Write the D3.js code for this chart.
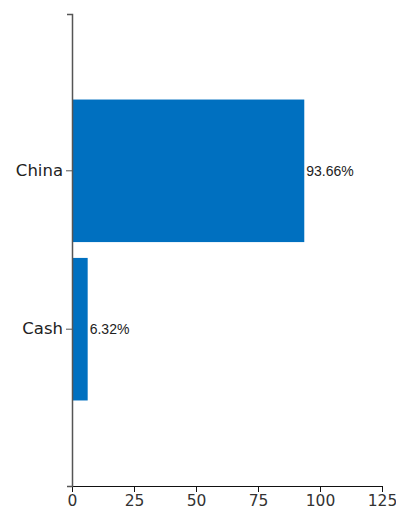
<!DOCTYPE html>
<html>
<head>
<meta charset="utf-8">
<script src="https://cdn.jsdelivr.net/npm/d3@7"></script>
<style>
  body { margin: 0; background: #fff; }
  svg { display: block; }
</style>
</head>
<body>
<div id="chart"></div>
<script>
/* ---------- Data ---------- */
const categories = ["China", "Cash"];
const values = [93.66, 6.32];
const xTicks = [0, 25, 50, 75, 100, 125];

/* ---------- Horizontal bar chart ---------- */
function drawBarChart() {
  const width = 396, height = 508;
  const margin = { top: 14, right: 14, bottom: 22, left: 72 };
  const innerW = width - margin.left - margin.right;
  const innerH = height - margin.top - margin.bottom;

  const svg = d3.select("#chart").append("svg")
    .attr("width", width)
    .attr("height", height)
    .append("g")
    .attr("transform", `translate(${margin.left},${margin.top})`);

  const data = categories.map((c, i) => ({ name: c, value: values[i] }));

  const x = d3.scaleLinear().domain([0, 125]).range([0, innerW]);
  const y = d3.scaleBand()
    .domain(categories)
    .range([0, innerH])
    .paddingInner(0.1)
    .paddingOuter(0.54);

  // Bars
  svg.selectAll(".bar")
    .data(data)
    .enter().append("rect")
    .attr("x", 0)
    .attr("y", d => y(d.name))
    .attr("width", d => x(d.value))
    .attr("height", y.bandwidth())
    .attr("fill", "#0070c0");

  // Value labels
  svg.selectAll(".val")
    .data(data)
    .enter().append("text")
    .attr("x", d => x(d.value) + 2)
    .attr("y", d => y(d.name) + y.bandwidth() / 2)
    .attr("dy", "0.35em")
    .text(d => d.value.toFixed(2) + "%")
    .style("font-family", "'Liberation Sans', Arial, sans-serif")
    .style("font-size", "14px")
    .style("fill", "#222");

  // X Axis
  svg.append("g")
    .attr("transform", `translate(0,${innerH})`)
    .call(d3.axisBottom(x).tickValues(xTicks).tickSizeOuter(0))
    .call(g => g.select(".domain").attr("stroke", "#111").attr("d", `M-4,0.5H${innerW}`))
    .call(g => g.selectAll("line").attr("stroke", "#111"))
    .selectAll("text")
    .style("font-family", "'DejaVu Sans', sans-serif")
    .style("font-size", "15.5px")
    .style("fill", "#333");

  // Y Axis
  svg.append("g")
    .call(d3.axisLeft(y).tickSizeOuter(5))
    .call(g => g.select(".domain").attr("stroke", "#555").attr("stroke-width", 1.5))
    .call(g => g.selectAll(".tick line").attr("stroke", "#555"))
    .selectAll("text")
    .style("font-family", "'DejaVu Sans', sans-serif")
    .style("font-size", "16.5px")
    .style("fill", "#222");
}

drawBarChart();
</script>
</body>
</html>
